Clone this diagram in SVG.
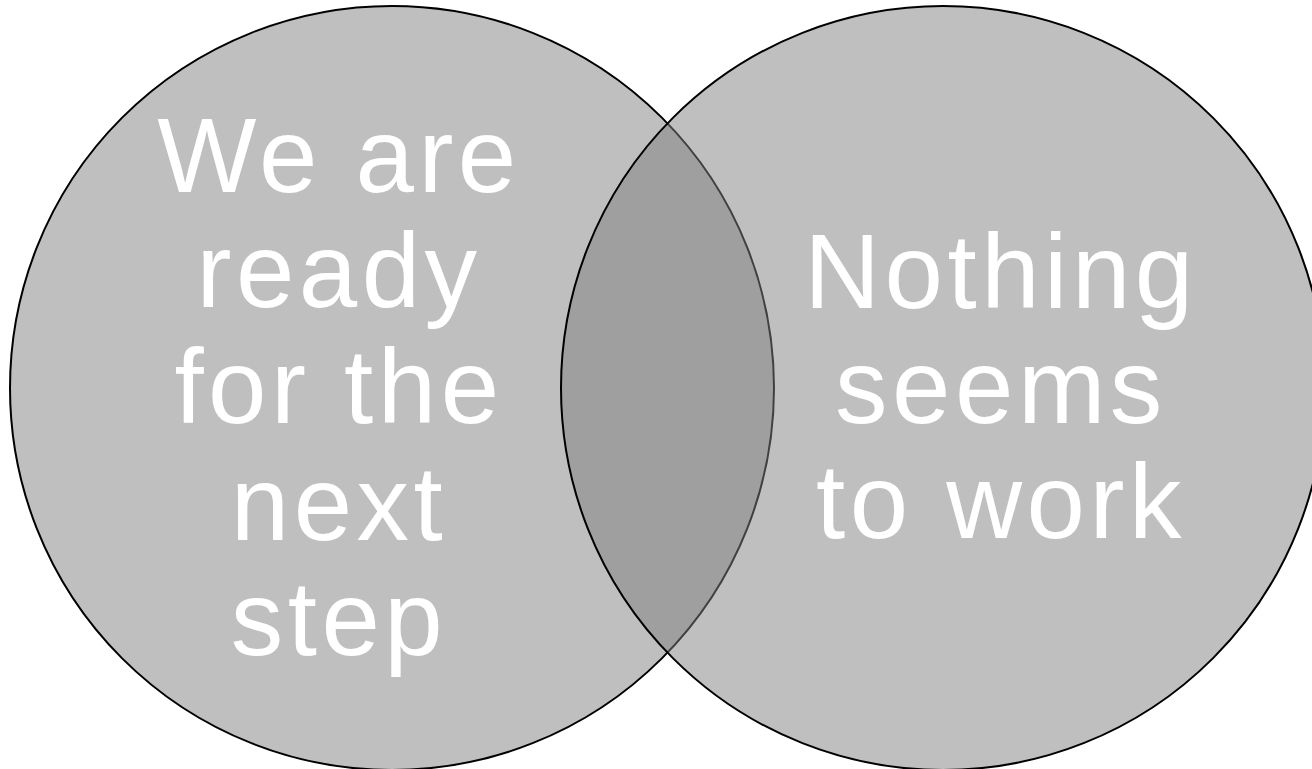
<svg xmlns="http://www.w3.org/2000/svg" width="1312" height="769" viewBox="0 0 1312 769">
<style>
.c{fill:#808080;fill-opacity:0.5;stroke:#000;stroke-width:2}
.t{font-family:"Liberation Sans",Arial,sans-serif;font-size:105px;fill:#fff;text-anchor:middle;letter-spacing:4.5px}
</style>
<rect width="1312" height="769" fill="#fff"/>
<g id="left">
<circle class="c" cx="392" cy="388" r="382"/>
</g>
<g id="right">
<circle class="c" cx="943" cy="388" r="382"/>
</g>
<g id="left-label">
<text class="t" x="339" y="192">We are</text>
<text class="t" x="339" y="307">ready</text>
<text class="t" x="339" y="423">for the</text>
<text class="t" x="339" y="540">next</text>
<text class="t" x="339" y="655">step</text>
</g>
<g id="right-label">
<text class="t" x="1001" y="308">Nothing</text>
<text class="t" x="1001" y="423">seems</text>
<text class="t" x="1001" y="538">to work</text>
</g>
<g id="connectors"></g>
</svg>
